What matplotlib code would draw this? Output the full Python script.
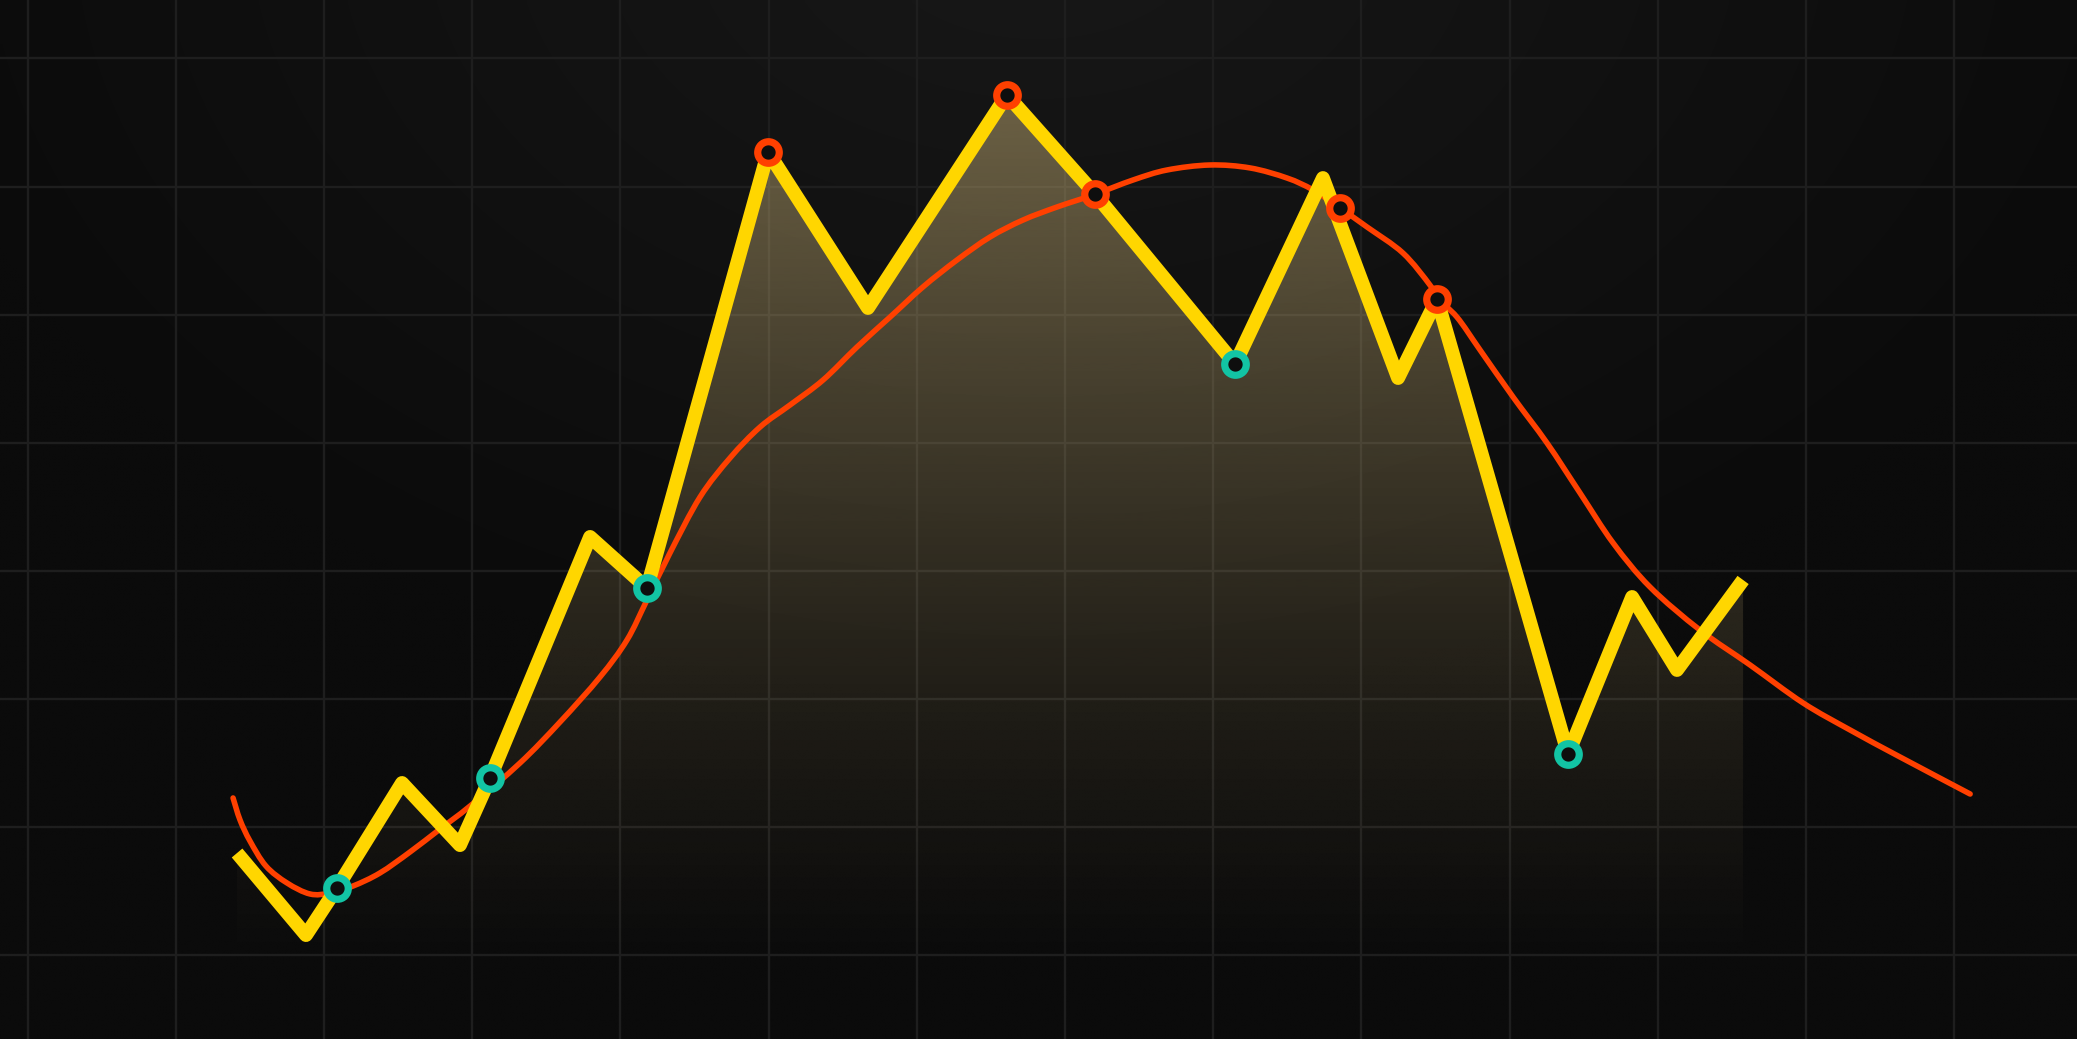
import numpy as np
import matplotlib
matplotlib.use('Agg')
import matplotlib.pyplot as plt
from matplotlib.colors import to_rgb
from matplotlib.path import Path
from matplotlib.patches import PathPatch

# price line (yellow)
price_x = [1.414, 1.879, 2.088, 2.527, 2.918, 3.121, 3.796, 4.180, 4.997, 5.671,
           6.609, 7.203, 8.148, 8.741, 9.248, 9.511, 10.395, 10.827, 11.130, 11.576]
price_y = [7.93, 1.52, 5.20, 13.40, 8.55, 13.79, 32.62, 28.63, 62.70, 50.51,
           67.15, 59.41, 46.13, 60.66, 45.04, 51.21, 15.66, 27.93, 22.23, 29.26]

# smoothed trend (orange-red)
trend_x = [1.387, 1.434, 1.501, 1.609, 1.751, 1.906, 2.041, 2.196, 2.378, 2.581,
           2.783, 2.986, 3.323, 3.593, 3.863, 4.045, 4.180, 4.335, 4.538, 4.740,
           4.943, 5.145, 5.368, 5.597, 5.820, 6.042, 6.272, 6.494, 6.717, 6.947,
           7.190, 7.460, 7.689, 7.979, 8.249, 8.499, 8.674, 8.856, 9.038,
           9.281, 9.463, 9.510, 9.645, 9.801, 10.024, 10.253, 10.476, 10.699, 10.948,
           11.285, 11.623, 11.981, 12.298, 12.635, 13.108]
trend_y = [12.23, 10.51, 8.87, 6.91, 5.59, 4.73, 4.80, 5.35, 6.37, 8.01,
           9.80, 11.60, 14.96, 18.16, 21.68, 24.57, 27.70, 31.37, 35.74, 38.79,
           41.21, 42.93, 44.88, 47.46, 49.80, 52.15, 54.26, 56.05, 57.38, 58.40,
           59.34, 60.51, 61.29, 61.68, 61.45, 60.66, 59.73, 58.32, 56.84,
           54.80, 52.30, 51.29, 49.80, 47.23, 43.55, 39.96, 36.05, 32.15, 28.71,
           25.35, 22.62, 19.65, 17.54, 15.43, 12.54]

# signal markers
buy_x = [2.088, 3.121, 4.180, 8.148, 10.395]
buy_y = [5.20, 13.79, 28.63, 46.13, 15.66]
sell_x = [4.997, 6.609, 7.203, 8.856, 9.511]
sell_y = [62.70, 67.15, 59.41, 58.32, 51.21]

x_grid = list(range(0, 14))
y_grid = list(range(0, 80, 10))

XMIN, XMAX = -0.1856, 13.829
YMIN, YMAX = -6.60, 74.57
FLOOR = -2.15


def smooth_path(xs, ys):
    # catmull-rom through the points, drawn as cubic bezier segments
    p = np.column_stack([xs, ys])
    verts = [p[0]]
    codes = [Path.MOVETO]
    for i in range(len(p) - 1):
        p0 = p[i - 1] if i > 0 else p[i]
        p3 = p[i + 2] if i + 2 < len(p) else p[i + 1]
        c1 = p[i] + (p[i + 1] - p0) / 6
        c2 = p[i + 1] - (p3 - p[i]) / 6
        verts += [c1, c2, p[i + 1]]
        codes += [Path.CURVE4] * 3
    return Path(verts, codes)


fig = plt.figure(figsize=(20.77, 10.39), dpi=100)
fig.patch.set_facecolor('#0b0b0b')
ax = fig.add_axes([0, 0, 1, 1])
ax.set_facecolor('#0b0b0b')

# background glow at the top
gx, gy = np.meshgrid(np.linspace(0, 1, 400), np.linspace(0, 1, 200))
r = np.sqrt(((gx - 0.5) / 0.55) ** 2 + ((gy - 1.08) / 0.75) ** 2)
t = np.clip(1 - r, 0, 1)
c0 = np.array(to_rgb('#0b0b0b'))
c1 = np.array(to_rgb('#181818'))
bg = c0 + (c1 - c0) * t[..., None]
ax.imshow(bg, extent=[XMIN, XMAX, YMIN, YMAX], origin='lower', aspect='auto',
          zorder=0, interpolation='bilinear')

for xv in x_grid:
    ax.axvline(xv, color='#1e1e1e', lw=1.7, zorder=0.5)
for yv in y_grid:
    ax.axhline(yv, color='#1e1e1e', lw=1.7, zorder=0.5)

# gradient area under the price line
poly = ax.fill_between(price_x, price_y, FLOOR, facecolor='none', edgecolor='none')
path = poly.get_paths()[0]
n = 256
grad = np.linspace(0, 1, n)
rgba = np.zeros((n, 1, 4))
rgba[..., :3] = to_rgb('#f0d48c')
rgba[:, 0, 3] = 0.40 * grad ** 1.25
im = ax.imshow(rgba, extent=[min(price_x), max(price_x), FLOOR, max(price_y)],
               origin='lower', aspect='auto', zorder=1, interpolation='bilinear')
im.set_clip_path(path, transform=ax.transData)

trend = PathPatch(smooth_path(trend_x, trend_y), fill=False, edgecolor='#ff4000',
                  lw=4, capstyle='round', joinstyle='round', zorder=3)
ax.add_patch(trend)
ax.plot(price_x, price_y, color='#ffd600', lw=10, solid_capstyle='butt',
        solid_joinstyle='round', zorder=4)

ax.plot(buy_x, buy_y, 'o', ms=15.5, mew=5.2, mfc='#0e0e0e', mec='#12c4a4', zorder=5)
ax.plot(sell_x, sell_y, 'o', ms=15.5, mew=5.2, mfc='#0e0e0e', mec='#ff4000', zorder=5)

ax.set_xlim(XMIN, XMAX)
ax.set_ylim(YMIN, YMAX)
ax.axis('off')

fig.savefig('out.png', dpi=100, facecolor=fig.get_facecolor())
